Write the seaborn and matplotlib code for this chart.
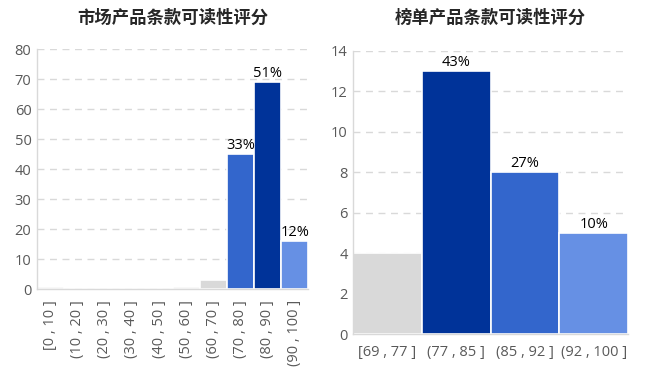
import numpy as np
import pandas as pd
import matplotlib
matplotlib.use("Agg")
import matplotlib.pyplot as plt
import seaborn as sns

# 市场产品
market_bins = ['[0 , 10 ]', '(10 , 20 ]', '(20 , 30 ]', '(30 , 40 ]', '(40 , 50 ]',
               '(50 , 60 ]', '(60 , 70 ]', '(70 , 80 ]', '(80 , 90 ]', '(90 , 100 ]']
market_counts = [0.7, 0, 0, 0, 0, 0.7, 3, 45, 69, 16]
market_labels = ['', '', '', '', '', '', '', '33%', '51%', '12%']

# 榜单产品
rank_bins = ['[69 , 77 ]', '(77 , 85 ]', '(85 , 92 ]', '(92 , 100 ]']
rank_counts = [4, 13, 8, 5]
rank_labels = ['', '43%', '27%', '10%']

GRAY = '#d9d9d9'
DARK = '#003399'
MID = '#3366cc'
LIGHT = '#6690e4'
market_colors = [GRAY] * 7 + [MID, DARK, LIGHT]
rank_colors = [GRAY, DARK, MID, LIGHT]

sns.set_style("white")
plt.rcParams['font.family'] = ['Open Sans', 'Noto Sans CJK SC', 'DejaVu Sans']

fig = plt.figure(figsize=(6.49, 3.75), dpi=100)
ax1 = fig.add_axes([0.057, 0.229, 0.418, 0.640])
ax2 = fig.add_axes([0.544, 0.109, 0.424, 0.755])


def draw(ax, bins, counts, labels, colors, ymax, ystep, title, title_pad):
    df = pd.DataFrame({'bin': bins, 'count': counts})
    sns.barplot(data=df, x='bin', y='count', hue='bin', palette=colors,
                width=1.0, edgecolor='white', linewidth=1.2, legend=False,
                saturation=1, ax=ax)
    ax.set_xlim(-0.5, len(bins) - 0.5)
    ax.set_ylim(0, ymax)
    ax.set_yticks(np.arange(0, ymax + 1, ystep))
    ax.yaxis.grid(True, linestyle=(0, (5, 4)), color='#d9d9d9', linewidth=1)
    ax.set_axisbelow(True)
    for s in ['top', 'right']:
        ax.spines[s].set_visible(False)
    for s in ['left', 'bottom']:
        ax.spines[s].set_color('#d9d9d9')
        ax.spines[s].set_linewidth(1)
    ax.tick_params(axis='both', length=0, labelsize=10.5, colors='#595959', pad=4)
    ax.tick_params(axis='x', pad=8)
    ax.set_xlabel('')
    ax.set_ylabel('')
    for i, (c, lab) in enumerate(zip(counts, labels)):
        if lab:
            ax.text(i, c + ymax * 0.004, lab, ha='center', va='bottom',
                    fontsize=10.5, color='black')
    ax.set_title(title, fontsize=12.5, fontweight='bold', pad=title_pad,
                 family=['Noto Sans CJK SC', 'DejaVu Sans'])


draw(ax1, market_bins, market_counts, market_labels, market_colors, 80, 10,
     '市场产品条款可读性评分', 19)
draw(ax2, rank_bins, rank_counts, rank_labels, rank_colors, 14, 2,
     '榜单产品条款可读性评分', 20)

for lab in ax1.get_xticklabels():
    lab.set_rotation(90)
    lab.set_va('top')
    lab.set_ha('center')

fig.savefig('out.png', dpi=100)
